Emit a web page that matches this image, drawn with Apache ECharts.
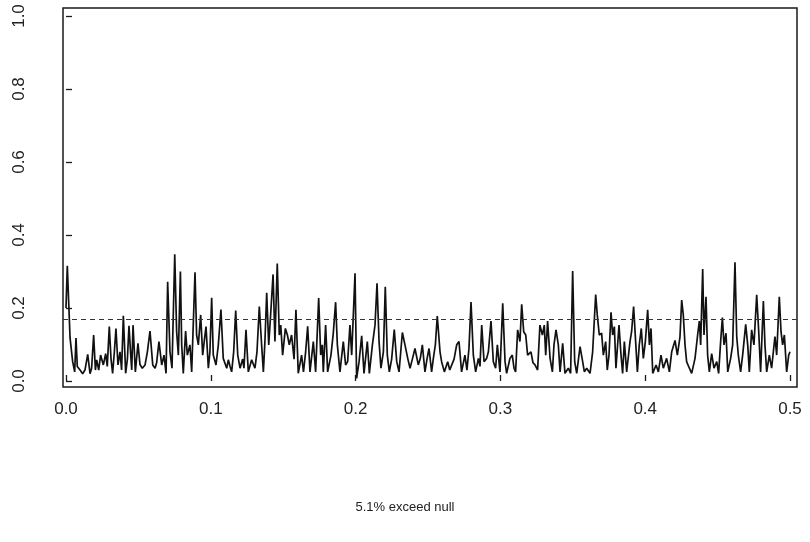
<!DOCTYPE html>
<html>
<head>
<meta charset="utf-8">
<script src="https://cdn.jsdelivr.net/npm/echarts@6/dist/echarts.min.js"></script>
<style>
html,body{margin:0;padding:0;background:#fff;}
#chart{width:810px;height:542px;}
</style>
</head>
<body>
<div id="chart"></div>
<script>
// Frequencies (cycles per unit) and spectral values
const freq = [
0.0000,0.0009,0.0028,0.0046,0.0060,0.0069,0.0078,0.0097,0.0115,0.0131,
0.0150,0.0166,0.0177,0.0191,0.0203,0.0212,0.0226,0.0239,0.0258,0.0274,
0.0285,0.0299,0.0311,0.0322,0.0334,0.0345,0.0359,0.0373,0.0384,0.0396,
0.0412,0.0424,0.0435,0.0447,0.0454,0.0463,0.0479,0.0497,0.0511,0.0527,
0.0546,0.0562,0.0580,0.0599,0.0615,0.0626,0.0642,0.0661,0.0677,0.0691,
0.0702,0.0718,0.0732,0.0751,0.0764,0.0776,0.0790,0.0799,0.0810,0.0826,
0.0838,0.0856,0.0868,0.0891,0.0902,0.0914,0.0930,0.0944,0.0955,0.0967,
0.0983,0.0994,0.1006,0.1017,0.1036,0.1052,0.1070,0.1086,0.1110,0.1121,
0.1133,0.1144,0.1158,0.1172,0.1186,0.1202,0.1220,0.1229,0.1243,0.1259,
0.1282,0.1305,0.1319,0.1335,0.1351,0.1363,0.1374,0.1386,0.1400,0.1413,
0.1430,0.1443,0.1459,0.1473,0.1483,0.1496,0.1515,0.1529,0.1542,0.1558,
0.1575,0.1588,0.1604,0.1627,0.1640,0.1655,0.1669,0.1685,0.1708,0.1724,
0.1745,0.1759,0.1770,0.1777,0.1793,0.1807,0.1830,0.1846,0.1862,0.1874,
0.1892,0.1915,0.1931,0.1945,0.1961,0.1973,0.1996,0.2007,0.2024,0.2042,
0.2058,0.2081,0.2095,0.2116,0.2134,0.2148,0.2162,0.2175,0.2192,0.2205,
0.2219,0.2233,0.2249,0.2267,0.2284,0.2300,0.2323,0.2341,0.2360,0.2376,
0.2392,0.2410,0.2433,0.2447,0.2461,0.2479,0.2493,0.2507,0.2525,0.2537,
0.2551,0.2564,0.2583,0.2594,0.2613,0.2636,0.2650,0.2663,0.2680,0.2698,
0.2714,0.2732,0.2755,0.2769,0.2783,0.2797,0.2813,0.2829,0.2848,0.2859,
0.2871,0.2887,0.2905,0.2917,0.2935,0.2951,0.2967,0.2979,0.2997,0.3016,
0.3032,0.3043,0.3066,0.3082,0.3094,0.3105,0.3119,0.3135,0.3147,0.3161,
0.3175,0.3188,0.3211,0.3225,0.3239,0.3257,0.3273,0.3290,0.3303,0.3313,
0.3326,0.3343,0.3359,0.3370,0.3384,0.3400,0.3412,0.3430,0.3446,0.3469,
0.3485,0.3499,0.3513,0.3527,0.3550,0.3566,0.3580,0.3596,0.3619,0.3637,
0.3658,0.3669,0.3683,0.3699,0.3711,0.3727,0.3738,0.3750,0.3764,0.3775,
0.3787,0.3798,0.3819,0.3833,0.3844,0.3856,0.3872,0.3895,0.3906,0.3920,
0.3934,0.3946,0.3959,0.3973,0.3987,0.4001,0.4017,0.4029,0.4040,0.4052,
0.4075,0.4091,0.4109,0.4125,0.4148,0.4167,0.4183,0.4206,0.4222,0.4240,
0.4252,0.4263,0.4275,0.4286,0.4305,0.4321,0.4344,0.4362,0.4374,0.4383,
0.4397,0.4406,0.4420,0.4431,0.4443,0.4459,0.4475,0.4494,0.4507,0.4521,
0.4533,0.4544,0.4558,0.4570,0.4590,0.4604,0.4620,0.4632,0.4643,0.4659,
0.4673,0.4694,0.4708,0.4719,0.4735,0.4751,0.4770,0.4784,0.4797,0.4816,
0.4827,0.4839,0.4857,0.4873,0.4896,0.4908,0.4926,0.4938,0.4949,0.4961,
0.4977,0.4991,0.5000
];
const power = [
0.200,0.316,0.118,0.053,0.025,0.118,0.040,0.030,0.020,0.030,
0.073,0.020,0.035,0.126,0.030,0.058,0.030,0.071,0.044,0.075,
0.040,0.149,0.060,0.021,0.080,0.144,0.044,0.080,0.030,0.179,
0.021,0.060,0.151,0.071,0.030,0.153,0.025,0.103,0.045,0.035,
0.044,0.080,0.137,0.044,0.035,0.050,0.108,0.044,0.071,0.021,
0.272,0.080,0.035,0.347,0.135,0.071,0.300,0.099,0.021,0.137,
0.071,0.099,0.025,0.298,0.126,0.099,0.181,0.071,0.110,0.149,
0.035,0.080,0.228,0.071,0.044,0.099,0.196,0.062,0.035,0.058,
0.040,0.025,0.080,0.193,0.071,0.035,0.060,0.035,0.140,0.025,
0.058,0.035,0.080,0.204,0.099,0.025,0.110,0.242,0.099,0.180,
0.292,0.108,0.322,0.126,0.153,0.071,0.144,0.126,0.099,0.126,
0.060,0.195,0.021,0.071,0.025,0.080,0.150,0.025,0.108,0.025,
0.227,0.071,0.099,0.025,0.153,0.025,0.071,0.131,0.216,0.099,
0.025,0.108,0.044,0.053,0.153,0.071,0.295,0.007,0.053,0.124,
0.021,0.108,0.021,0.099,0.153,0.268,0.108,0.035,0.080,0.258,
0.071,0.025,0.060,0.141,0.053,0.025,0.133,0.099,0.062,0.035,
0.060,0.089,0.044,0.062,0.099,0.025,0.060,0.089,0.025,0.062,
0.100,0.178,0.080,0.053,0.025,0.053,0.030,0.035,0.060,0.099,
0.108,0.025,0.071,0.030,0.090,0.216,0.071,0.025,0.062,0.040,
0.153,0.053,0.062,0.080,0.164,0.053,0.035,0.099,0.025,0.213,
0.053,0.021,0.062,0.071,0.035,0.025,0.140,0.108,0.210,0.135,
0.126,0.071,0.080,0.050,0.044,0.030,0.153,0.126,0.153,0.071,
0.164,0.062,0.025,0.099,0.140,0.099,0.025,0.103,0.021,0.035,
0.021,0.301,0.053,0.021,0.094,0.058,0.025,0.035,0.021,0.080,
0.237,0.181,0.126,0.131,0.071,0.108,0.030,0.071,0.188,0.126,
0.149,0.035,0.153,0.071,0.021,0.108,0.025,0.108,0.135,0.204,
0.108,0.025,0.099,0.144,0.062,0.108,0.195,0.099,0.144,0.021,
0.044,0.025,0.071,0.035,0.062,0.025,0.080,0.111,0.071,0.120,
0.222,0.181,0.099,0.053,0.035,0.021,0.062,0.126,0.164,0.099,
0.307,0.126,0.231,0.071,0.025,0.075,0.035,0.053,0.021,0.108,
0.174,0.099,0.131,0.025,0.062,0.099,0.325,0.122,0.071,0.025,
0.071,0.155,0.099,0.025,0.140,0.099,0.236,0.135,0.025,0.219,
0.099,0.025,0.071,0.035,0.122,0.071,0.231,0.135,0.099,0.126,
0.025,0.071,0.080
];
const nullLevel = 0.165;
const xTicks = [0, 0.1, 0.2, 0.3, 0.4, 0.5];
const yTicks = [0, 0.2, 0.4, 0.6, 0.8, 1.0];
const caption = '5.1% exceed null';

const chart = echarts.init(document.getElementById('chart'), null, {renderer: 'canvas'});
const fontFamily = '"Liberation Sans", Arial, Helvetica, sans-serif';
chart.setOption({
  animation: false,
  backgroundColor: '#ffffff',
  title: {
    text: caption,
    left: 'center',
    top: 496,
    textStyle: {fontFamily, fontSize: 13, fontWeight: 'normal', color: '#222'}
  },
  grid: {
    left: 63, top: 8, width: 734, height: 379,
    show: true, borderColor: '#1a1a1a', borderWidth: 1.5, backgroundColor: 'transparent'
  },
  xAxis: {
    type: 'value',
    min: -0.00207, max: 0.50483,
    axisLine: {show: false},
    splitLine: {show: false},
    axisTick: {show: true, inside: true, length: 6, customValues: xTicks, lineStyle: {color: '#1a1a1a', width: 1.3}},
    axisLabel: {customValues: xTicks, margin: 14, fontFamily, fontSize: 17, color: '#222',
      formatter: v => v.toFixed(1)}
  },
  yAxis: {
    type: 'value',
    min: -0.01644, max: 1.02192,
    axisLine: {show: false},
    splitLine: {show: false},
    axisTick: {show: true, inside: true, length: 6, customValues: yTicks, lineStyle: {color: '#1a1a1a', width: 1.3}},
    axisLabel: {customValues: yTicks, rotate: 90, margin: 35, fontFamily, fontSize: 17, color: '#222',
      formatter: v => v.toFixed(1)}
  },
  series: [{
    type: 'line',
    data: freq.map((f, i) => [f, power[i]]),
    symbol: 'none',
    lineStyle: {color: '#111', width: 1.7},
    markLine: {
      silent: true,
      symbol: ['none', 'none'],
      label: {show: false},
      lineStyle: {color: '#333', type: [5, 4], width: 1.2},
      data: [{yAxis: nullLevel}]
    }
  }]
});
</script>
</body>
</html>
